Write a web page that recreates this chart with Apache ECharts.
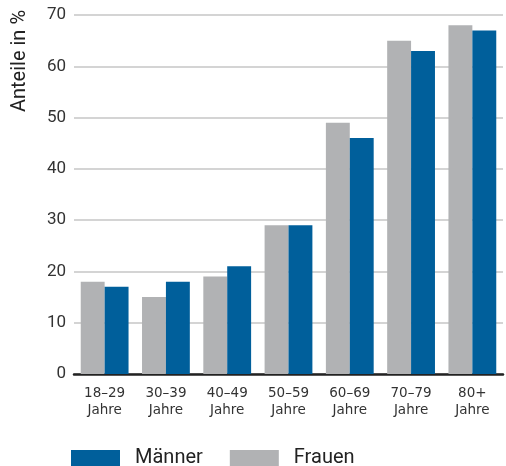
<!DOCTYPE html>
<html>
<head>
<meta charset="utf-8">
<script src="https://cdn.jsdelivr.net/npm/echarts@6/dist/echarts.min.js"></script>
<style>
  html, body { margin: 0; padding: 0; background: #fff; }
  #chart { width: 506px; height: 466px; }
</style>
</head>
<body>
<div id="chart"></div>
<script>
"use strict";

// Age groups (x axis)
const categories = ["18–29\nJahre", "30–39\nJahre", "40–49\nJahre", "50–59\nJahre", "60–69\nJahre", "70–79\nJahre", "80+\nJahre"];

// Shares in percent
const frauen = [18, 15, 19, 29, 49, 65, 68];
const maenner = [17, 18, 21, 29, 46, 63, 67];

// Y axis ticks
const yTicks = [0, 10, 20, 30, 40, 50, 60, 70];

const BLUE = "#005f9b";
const GREY = "#b1b2b4";
const FONT = "Roboto";

const chart = echarts.init(document.getElementById("chart"), null, { renderer: "canvas" });

chart.setOption({
  animation: false,
  backgroundColor: "#ffffff",
  textStyle: { fontFamily: FONT },
  grid: { left: 74, right: 3, top: 15, bottom: 92, containLabel: false },
  legend: {
    data: ["Männer", "Frauen"],
    left: 71,
    top: 448,
    padding: 0,
    itemWidth: 49,
    itemHeight: 16,
    itemGap: 27,
    icon: "rect",
    textStyle: { fontFamily: FONT, fontSize: 20, color: "#222", padding: [0, 0, 0, 10] }
  },
  xAxis: {
    type: "category",
    data: categories,
    axisTick: { show: false },
    axisLine: { show: true, lineStyle: { color: "#222", width: 2.5 } },
    axisLabel: {
      margin: 11,
      fontFamily: "DejaVu Sans",
      fontSize: 13.5,
      lineHeight: 17,
      color: "#333"
    }
  },
  yAxis: {
    type: "value",
    min: yTicks[0],
    max: yTicks[yTicks.length - 1],
    interval: 10,
    axisLine: { show: false },
    axisTick: { show: false },
    axisLabel: { margin: 8, fontFamily: FONT, fontSize: 17, color: "#333" },
    splitLine: { lineStyle: { color: "#d4d4d4", width: 2 } }
  },
  graphic: [
    {
      type: "text",
      x: 20,
      y: 61,
      rotation: Math.PI / 2,
      style: {
        text: "Anteile in %",
        fontFamily: FONT,
        fontSize: 20,
        fill: "#222",
        align: "center",
        verticalAlign: "middle"
      }
    }
  ],
  series: [
    {
      name: "Frauen",
      type: "bar",
      data: frauen,
      barGap: "0%",
      barCategoryGap: "22%",
      itemStyle: { color: GREY }
    },
    {
      name: "Männer",
      type: "bar",
      data: maenner,
      itemStyle: { color: BLUE }
    }
  ]
});
</script>
</body>
</html>
